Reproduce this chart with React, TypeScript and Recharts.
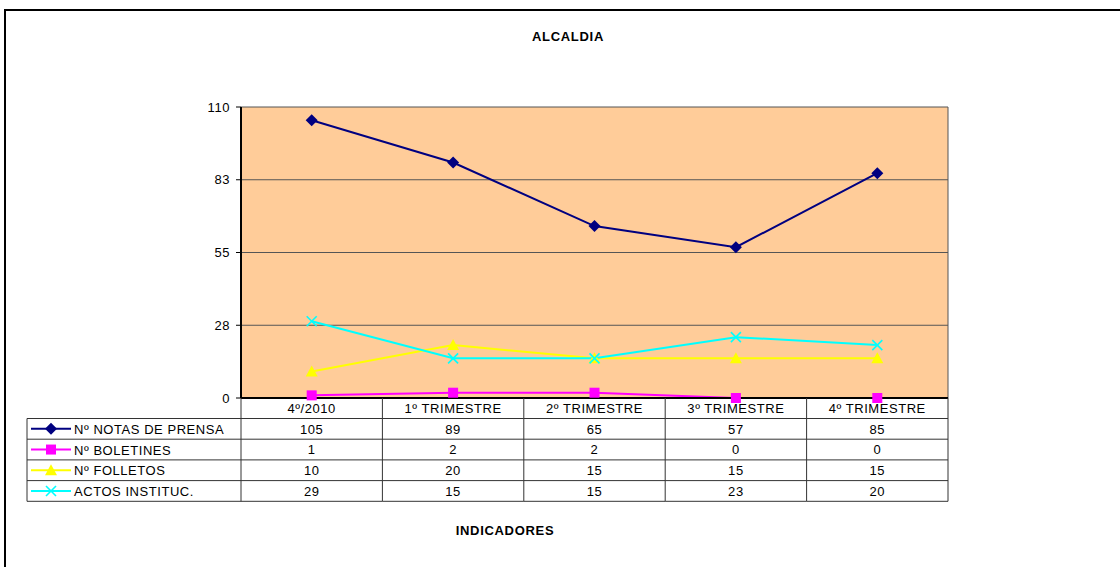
import { LineChart, Line, XAxis, YAxis, CartesianGrid } from "recharts";

const categories = ["4º/2010", "1º TRIMESTRE", "2º TRIMESTRE", "3º TRIMESTRE", "4º TRIMESTRE"];
const notasPrensa = [105, 89, 65, 57, 85];
const boletines = [1, 2, 2, 0, 0];
const folletos = [10, 20, 15, 15, 15];
const actosInstituc = [29, 15, 15, 23, 20];
const yTicks = [0, 27.5, 55, 82.5, 110];

const series = [
  { key: "notas", name: "Nº NOTAS DE PRENSA", color: "#000080", shape: "diamond", values: notasPrensa },
  { key: "boletines", name: "Nº BOLETINES", color: "#FF00FF", shape: "square", values: boletines },
  { key: "folletos", name: "Nº FOLLETOS", color: "#FFFF00", shape: "triangle", values: folletos },
  { key: "actos", name: "ACTOS INSTITUC.", color: "#00FFFF", shape: "cross", values: actosInstituc },
];

const data = categories.map((cat, i) => {
  const row: any = { cat };
  series.forEach((s) => (row[s.key] = s.values[i]));
  return row;
});

// layout
const CHART_W = 1112;
const CHART_H = 540;
const MARGIN = { top: 98, right: 168, left: 197, bottom: 45 };
const YAXIS_W = 40;
const XAXIS_H = 106;
const PLOT_W = CHART_W - MARGIN.left - YAXIS_W - MARGIN.right;
const PLOT_RIGHT = MARGIN.left + YAXIS_W + PLOT_W;
const BW = PLOT_W / categories.length;
const HEADER_H = 20.5;
const ROW_H = 20.7;
const LEGEND_W = 214;
const LINE_CLR = "#333";
const FS = 13;
const LS = 0.55;

function Marker({ shape, color, cx, cy }: any) {
  if (cx == null || cy == null) return null;
  if (shape === "diamond")
    return <polygon points={`${cx},${cy - 6} ${cx + 6},${cy} ${cx},${cy + 6} ${cx - 6},${cy}`} fill={color} />;
  if (shape === "square")
    return <rect x={cx - 5} y={cy - 5} width={10} height={10} fill={color} />;
  if (shape === "triangle")
    return <polygon points={`${cx},${cy - 6} ${cx + 6},${cy + 5} ${cx - 6},${cy + 5}`} fill={color} />;
  return (
    <g stroke={color} strokeWidth={1.6}>
      <line x1={cx - 5} y1={cy - 5} x2={cx + 5} y2={cy + 5} />
      <line x1={cx - 5} y1={cy + 5} x2={cx + 5} y2={cy - 5} />
    </g>
  );
}

function TableTick(props: any) {
  const { x, y, index, payload } = props;
  const left = x - BW / 2;
  const right = x + BW / 2;
  const bottom = y + HEADER_H + series.length * ROW_H;
  const last = index === categories.length - 1;
  return (
    <g>
      <text x={x} y={y + 15} textAnchor="middle" fontSize={FS} letterSpacing={LS} fill="#000">
        {payload.value}
      </text>
      <line x1={left} y1={y} x2={left} y2={bottom} stroke={LINE_CLR} />
      {last && <line x1={right} y1={y} x2={right} y2={bottom} stroke={LINE_CLR} />}
      {series.map((s, r) => {
        const top = y + HEADER_H + r * ROW_H;
        return (
          <g key={s.key}>
            <line x1={left} y1={top} x2={right} y2={top} stroke={LINE_CLR} />
            <text x={x} y={top + 15} textAnchor="middle" fontSize={FS} letterSpacing={LS} fill="#000">
              {s.values[index]}
            </text>
          </g>
        );
      })}
      <line x1={left} y1={bottom} x2={right} y2={bottom} stroke={LINE_CLR} />
      {index === 0 && (
        <g>
          <line x1={left - LEGEND_W} y1={y + HEADER_H} x2={left - LEGEND_W} y2={bottom} stroke={LINE_CLR} />
          <line x1={left - LEGEND_W} y1={bottom} x2={left} y2={bottom} stroke={LINE_CLR} />
          {series.map((s, r) => {
            const top = y + HEADER_H + r * ROW_H;
            const mid = top + ROW_H / 2;
            const lx = left - LEGEND_W;
            return (
              <g key={s.key}>
                <line x1={lx} y1={top} x2={left} y2={top} stroke={LINE_CLR} />
                <line x1={lx + 4} y1={mid} x2={lx + 44} y2={mid} stroke={s.color} strokeWidth={2} />
                <Marker shape={s.shape} color={s.color} cx={lx + 24} cy={mid} />
                <text x={lx + 47} y={mid + 5} fontSize={FS} letterSpacing={LS} fill="#000">
                  {s.name}
                </text>
              </g>
            );
          })}
        </g>
      )}
    </g>
  );
}

export default function App() {
  return (
    <div
      style={{
        position: "relative",
        width: 1112,
        height: 540,
        margin: "1px 0 0 -4px",
        fontFamily: "'Liberation Sans', Arial, sans-serif",
      }}
    >
      <style>{`html,body{overflow:hidden}`}</style>
      <div
        style={{
          position: "absolute",
          left: 464,
          top: 20,
          width: 200,
          textAlign: "center",
          fontSize: 13,
          letterSpacing: 0.7,
          fontWeight: "bold",
        }}
      >
        ALCALDIA
      </div>
      <div
        style={{
          position: "absolute",
          left: 401,
          top: 514,
          width: 200,
          textAlign: "center",
          fontSize: 13,
          letterSpacing: 0.7,
          fontWeight: "bold",
        }}
      >
        INDICADORES
      </div>
      <div style={{ position: "absolute", left: 0, top: 0 }}>
        <LineChart width={CHART_W} height={CHART_H} data={data} margin={MARGIN}>
          <CartesianGrid
            fill="#FFCC99"
            fillOpacity={1}
            stroke="#555"
            vertical={true}
            verticalPoints={[PLOT_RIGHT]}
          />
          <XAxis
            dataKey="cat"
            height={XAXIS_H}
            interval={0}
            tickLine={false}
            tickSize={0}
            tickMargin={0}
            padding={{ left: BW / 2, right: BW / 2 }}
            axisLine={{ stroke: "#000", strokeWidth: 2 }}
            tick={<TableTick />}
          />
          <YAxis
            width={YAXIS_W}
            domain={[0, 110]}
            ticks={yTicks}
            tickFormatter={(v: number) => String(Math.round(v))}
            tick={{ fontSize: FS, fill: "#000", letterSpacing: LS }}
            tickSize={5}
            tickMargin={6}
            tickLine={{ stroke: "#000" }}
            axisLine={{ stroke: "#000", strokeWidth: 2 }}
            interval={0}
          />
          {series.map((s) => (
            <Line
              key={s.key}
              dataKey={s.key}
              name={s.name}
              type="linear"
              stroke={s.color}
              strokeWidth={2}
              dot={(p: any) => <Marker key={`${s.key}-${p.index}`} shape={s.shape} color={s.color} cx={p.cx} cy={p.cy} />}
              activeDot={false}
              isAnimationActive={false}
            />
          ))}
        </LineChart>
      </div>
      <div
        style={{
          position: "fixed",
          left: 4,
          top: 9,
          width: 1300,
          height: 800,
          borderTop: "2px solid #000",
          borderLeft: "2px solid #000",
          boxSizing: "border-box",
          pointerEvents: "none",
          zIndex: 2,
        }}
      />
    </div>
  );
}
